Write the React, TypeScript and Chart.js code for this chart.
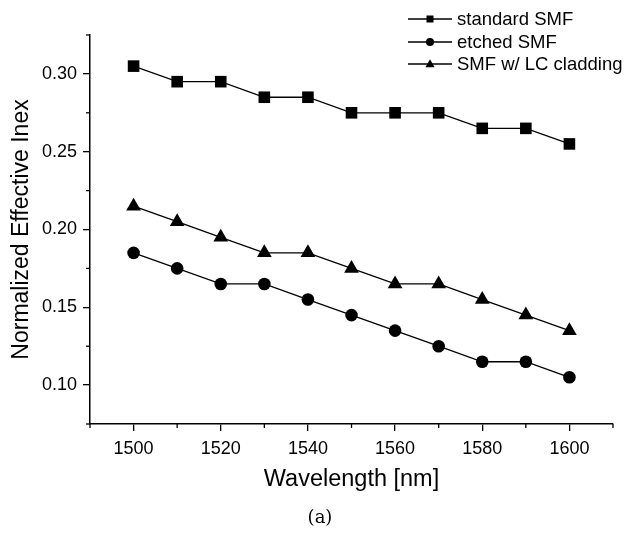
import React, { useEffect, useRef } from "react";
import { Chart, registerables } from "chart.js";

Chart.register(...registerables);

const wavelengths = [1500, 1510, 1520, 1530, 1540, 1550, 1560, 1570, 1580, 1590, 1600];
const standardSMF = [0.305, 0.295, 0.295, 0.285, 0.285, 0.275, 0.275, 0.275, 0.265, 0.265, 0.255];
const etchedSMF = [0.185, 0.175, 0.165, 0.165, 0.155, 0.145, 0.135, 0.125, 0.115, 0.115, 0.105];
const lcCladding = [0.215, 0.205, 0.195, 0.185, 0.185, 0.175, 0.165, 0.165, 0.155, 0.145, 0.135];
const seriesLabels = ["standard SMF", "etched SMF", "SMF w/ LC cladding"];
const xMajorTicks = [1500, 1520, 1540, 1560, 1580, 1600];
const xMinorTicks = [1490, 1510, 1530, 1550, 1570, 1590, 1610];
const yMajorTicks = [0.1, 0.15, 0.2, 0.25, 0.3];
const yMinorTicks = [0.075, 0.125, 0.175, 0.225, 0.275, 0.325];
const xTitle = "Wavelength [nm]";
const yTitle = "Normalized Effective Inex";
const caption = "(a)";

const FONT = "'Liberation Sans', Arial, Helvetica, sans-serif";

function drawMarker(ctx: CanvasRenderingContext2D, style: string, x: number, y: number, s: number) {
  ctx.beginPath();
  if (style === "rect") {
    ctx.rect(x - s / 2, y - s / 2, s, s);
  } else if (style === "circle") {
    ctx.arc(x, y, s / 2, 0, Math.PI * 2);
  } else {
    const h = s * 0.87;
    ctx.moveTo(x, y - h * 0.6);
    ctx.lineTo(x + s / 2, y + h * 0.4);
    ctx.lineTo(x - s / 2, y + h * 0.4);
    ctx.closePath();
  }
  ctx.fill();
}

const extrasPlugin = {
  id: "extras",
  afterDraw(chart: any) {
    const ctx: CanvasRenderingContext2D = chart.ctx;
    const xs = chart.scales.x;
    const ys = chart.scales.y;
    const area = chart.chartArea;
    ctx.save();
    ctx.strokeStyle = "#000";
    ctx.lineWidth = 1.3;
    xMinorTicks.forEach((v) => {
      const px = xs.getPixelForValue(v);
      ctx.beginPath();
      ctx.moveTo(px, area.bottom);
      ctx.lineTo(px, area.bottom + 4);
      ctx.stroke();
    });
    yMinorTicks.forEach((v) => {
      const py = ys.getPixelForValue(v);
      ctx.beginPath();
      ctx.moveTo(area.left, py);
      ctx.lineTo(area.left - 4, py);
      ctx.stroke();
    });
    const styles = ["rect", "circle", "triangle"];
    const sizes = [7, 8, 9];
    const rowsY = [19, 42, 64];
    ctx.fillStyle = "#000";
    ctx.font = `18.5px ${FONT}`;
    ctx.textBaseline = "middle";
    ctx.textAlign = "left";
    seriesLabels.forEach((lab, i) => {
      const y = rowsY[i];
      ctx.lineWidth = 1.6;
      ctx.beginPath();
      ctx.moveTo(408, y);
      ctx.lineTo(452, y);
      ctx.stroke();
      drawMarker(ctx, styles[i], 430, y, sizes[i]);
      ctx.fillText(lab, 457, y + 1);
    });
    ctx.font = `18px 'DejaVu Serif', 'Liberation Serif', serif`;
    ctx.textAlign = "center";
    ctx.fillText(caption, 320, 518);
    ctx.restore();
  },
};

export default function App() {
  const ref = useRef<HTMLCanvasElement | null>(null);
  useEffect(() => {
    if (!ref.current) return;
    const mk = (vals: number[]) => wavelengths.map((x, i) => ({ x, y: vals[i] }));
    const chart = new Chart(ref.current, {
      type: "line",
      data: {
        datasets: [
          { label: seriesLabels[0], data: mk(standardSMF), pointStyle: "rect", pointRadius: 8.2 },
          { label: seriesLabels[1], data: mk(etchedSMF), pointStyle: "circle", pointRadius: 6.3 },
          { label: seriesLabels[2], data: mk(lcCladding), pointStyle: "triangle", pointRadius: 8.5 },
        ].map((d) => ({
          ...d,
          borderColor: "#000",
          backgroundColor: "#000",
          pointBackgroundColor: "#000",
          pointBorderColor: "#000",
          pointBorderWidth: 0,
          borderWidth: 1.3,
          tension: 0,
        })),
      },
      plugins: [extrasPlugin],
      options: {
        animation: false,
        responsive: false,
        layout: { padding: { top: 35, right: 13, left: 0, bottom: 44 } },
        plugins: { legend: { display: false }, tooltip: { enabled: false } },
        scales: {
          x: {
            type: "linear",
            min: 1490,
            max: 1610,
            afterBuildTicks: (s: any) => {
              s.ticks = xMajorTicks.map((v) => ({ value: v }));
            },
            afterFit: (s: any) => {
              s.height = 76;
            },
            grid: { drawOnChartArea: false, drawTicks: true, tickLength: 7, color: "#000", lineWidth: 1.3 },
            border: { color: "#000", width: 1.5 },
            ticks: { color: "#000", font: { family: FONT, size: 18 }, padding: 7, maxRotation: 0, callback: (v: any) => String(v) },
            title: { display: true, text: xTitle, color: "#000", font: { family: FONT, size: 23.5 }, padding: { top: 4, bottom: 6 } },
          },
          y: {
            type: "linear",
            min: 0.075,
            max: 0.325,
            afterBuildTicks: (s: any) => {
              s.ticks = yMajorTicks.map((v) => ({ value: v }));
            },
            afterFit: (s: any) => {
              s.width = 90;
            },
            grid: { drawOnChartArea: false, drawTicks: true, tickLength: 7, color: "#000", lineWidth: 1.3 },
            border: { color: "#000", width: 1.5 },
            ticks: { color: "#000", font: { family: FONT, size: 18 }, padding: 6, callback: (v: any) => Number(v).toFixed(2) },
            title: { display: true, text: yTitle, color: "#000", font: { family: FONT, size: 23 }, padding: { top: 8, bottom: 4 } },
          },
        },
      },
    } as any);
    return () => chart.destroy();
  }, []);
  return (
    <div style={{ position: "fixed", left: 0, top: 0, width: 626, height: 544, background: "#fff" }}>
      <canvas ref={ref} width={626} height={544} />
    </div>
  );
}
